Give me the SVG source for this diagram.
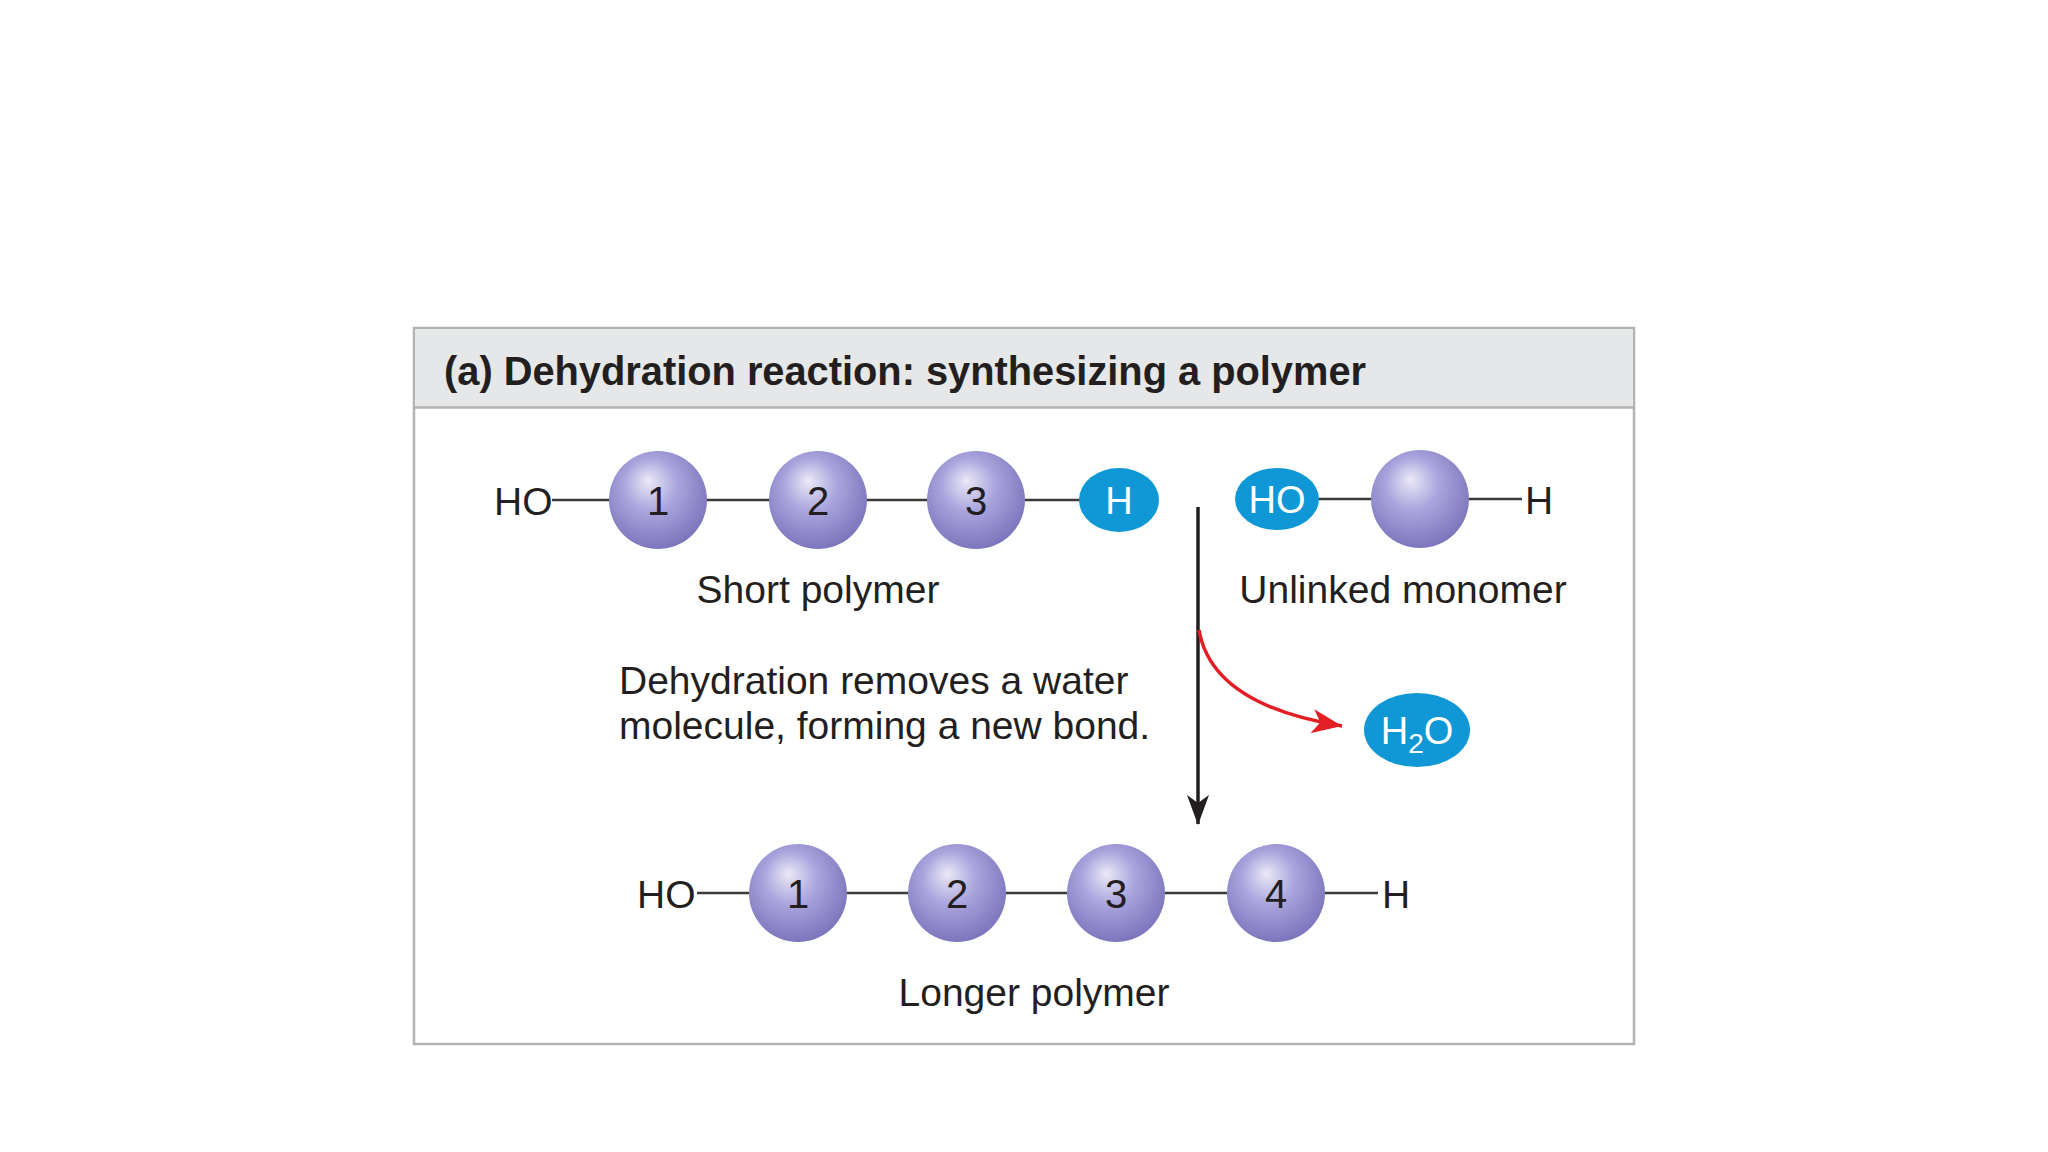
<svg xmlns="http://www.w3.org/2000/svg" width="2048" height="1152" viewBox="0 0 2048 1152">
<defs>
<radialGradient id="sph" cx="0.45" cy="0.4" r="0.6" fx="0.4" fy="0.3">
<stop offset="0" stop-color="#ebe9f7"/>
<stop offset="0.45" stop-color="#aaa5dd"/>
<stop offset="1" stop-color="#7d76bd"/>
</radialGradient>
<marker id="ah" viewBox="0 0 30 22" refX="29" refY="11" markerWidth="30" markerHeight="22" markerUnits="userSpaceOnUse" orient="auto">
<path d="M0,0 L30,11 L0,22 L8,11 Z" fill="#231f20"/>
</marker>
<marker id="ahr" viewBox="0 0 30 24" refX="30" refY="12" markerWidth="30" markerHeight="24" markerUnits="userSpaceOnUse" orient="auto">
<path d="M0,0 L30,12 L0,24 L8,12 Z" fill="#e31e24"/>
</marker>
</defs>
<style>
.t{font-family:"Liberation Sans",Arial,sans-serif;font-size:39px;fill:#231f20}
.n{font-family:"Liberation Sans",Arial,sans-serif;font-size:40px;fill:#231f20;text-anchor:middle}
.w{font-family:"Liberation Sans",Arial,sans-serif;font-size:38px;fill:#ffffff;text-anchor:middle}
.b{stroke:#3a3a3a;stroke-width:2.5;fill:none}
.s{fill:url(#sph)}
.o{fill:#0f98d5}
</style>
<rect width="2048" height="1152" fill="#ffffff"/>
<g id="frame">
<rect x="414" y="328" width="1220" height="716" fill="#ffffff" stroke="#b3b3b3" stroke-width="2.5"/>
<rect x="415.25" y="329.25" width="1217.5" height="78" fill="#e6e7e8"/>
<line x1="414" y1="407.5" x2="1634" y2="407.5" stroke="#b3b3b3" stroke-width="2.5"/>
<text x="444" y="385" font-family="Liberation Sans,Arial,sans-serif" font-weight="bold" font-size="40" fill="#231f20" textLength="922" lengthAdjust="spacingAndGlyphs">(a) Dehydration reaction: synthesizing a polymer</text>
</g>
<g id="connectors">
<line class="b" x1="552" y1="500" x2="612" y2="500"/>
<line class="b" x1="706" y1="500" x2="772" y2="500"/>
<line class="b" x1="865" y1="500" x2="929" y2="500"/>
<line class="b" x1="1023" y1="500" x2="1081" y2="500"/>
<line class="b" x1="1317" y1="499" x2="1373" y2="499"/>
<line class="b" x1="1467" y1="499" x2="1522" y2="499"/>
<line class="b" x1="697" y1="893" x2="751" y2="893"/>
<line class="b" x1="845" y1="893" x2="911" y2="893"/>
<line class="b" x1="1004" y1="893" x2="1069" y2="893"/>
<line class="b" x1="1163" y1="893" x2="1230" y2="893"/>
<line class="b" x1="1322" y1="893" x2="1378" y2="893"/>
<line x1="1198" y1="507" x2="1198" y2="824" stroke="#231f20" stroke-width="3.5" marker-end="url(#ah)"/>
<path d="M1199,630 Q1212,705 1342,726" fill="none" stroke="#e31e24" stroke-width="3.5" marker-end="url(#ahr)"/>
</g>
<g id="short-polymer">
<text class="t" x="494" y="515">HO</text>
<circle class="s" cx="658" cy="500" r="49"/><text class="n" x="658" y="515">1</text>
<circle class="s" cx="818" cy="500" r="49"/><text class="n" x="818" y="515">2</text>
<circle class="s" cx="976" cy="500" r="49"/><text class="n" x="976" y="515">3</text>
<ellipse class="o" cx="1119" cy="500" rx="40" ry="32"/><text class="w" x="1119" y="514">H</text>
<text class="t" x="818" y="603" text-anchor="middle">Short polymer</text>
</g>
<g id="unlinked-monomer">
<ellipse class="o" cx="1277" cy="499" rx="42" ry="31"/><text class="w" x="1277" y="513">HO</text>
<circle class="s" cx="1420" cy="499" r="49"/>
<text class="t" x="1525" y="514">H</text>
<text class="t" x="1403" y="603" text-anchor="middle">Unlinked monomer</text>
</g>
<g id="dehydration-label">
<text class="t" x="619" y="694">Dehydration removes a water</text>
<text class="t" x="619" y="739">molecule, forming a new bond.</text>
</g>
<g id="water">
<ellipse class="o" cx="1417" cy="730" rx="53" ry="37"/>
<text class="w" x="1417" y="744">H<tspan font-size="28" dy="9">2</tspan><tspan dy="-9">O</tspan></text>
</g>
<g id="longer-polymer">
<text class="t" x="637" y="908">HO</text>
<circle class="s" cx="798" cy="893" r="49"/><text class="n" x="798" y="908">1</text>
<circle class="s" cx="957" cy="893" r="49"/><text class="n" x="957" y="908">2</text>
<circle class="s" cx="1116" cy="893" r="49"/><text class="n" x="1116" y="908">3</text>
<circle class="s" cx="1276" cy="893" r="49"/><text class="n" x="1276" y="908">4</text>
<text class="t" x="1382" y="908">H</text>
<text class="t" x="1034" y="1006" text-anchor="middle">Longer polymer</text>
</g>
</svg>
